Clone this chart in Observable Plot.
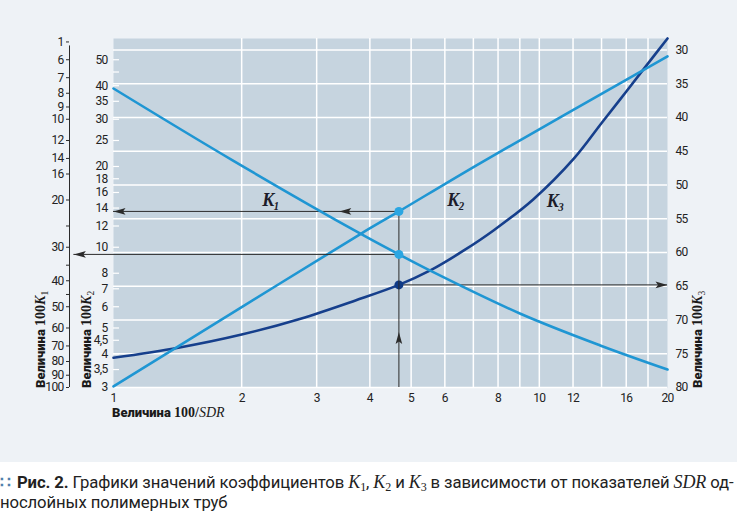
<!DOCTYPE html>
<html>
<head>
<meta charset="utf-8">
<script src="https://cdn.jsdelivr.net/npm/d3@7"></script>
<script src="https://cdn.jsdelivr.net/npm/@observablehq/plot@0.6"></script>
<style>
  body { margin: 0; background: #fff; }
  #wrap { position: relative; width: 746px; height: 531px; overflow: hidden; background: #fff; }
  #panel { position: absolute; left: 0; top: 0; width: 737px; height: 462px; background: #eef2f6; }
  .layer { position: absolute; left: 0; top: 0; }
  .layer text { letter-spacing: -0.7px; }
  #caption { position: absolute; left: 0; top: 472px; width: 746px; white-space: nowrap;
    font-family: Roboto, "Noto Sans", sans-serif; font-size: 16.7px; line-height: 20px; color: #222; letter-spacing: -0.1px; }
  #caption .dots { color: #4f7fab; font-weight: bold; margin-right: 6px; }
  #caption i { font-family: "Liberation Serif", "DejaVu Serif", serif; font-size: 18px; }
  #caption sub { font-family: "Liberation Serif", serif; font-size: 12px; vertical-align: -3px; line-height: 0; }
</style>
</head>
<body>
<div id="wrap">
  <div id="panel"></div>
  <div id="layers"></div>
  <div id="caption"><span class="dots">∷</span><b>Рис. 2.</b> Графики значений коэффициентов <i>K</i><sub>1</sub>, <i>K</i><sub>2</sub> и <i>K</i><sub>3</sub> в зависимости от показателей <i>SDR</i> од-<br>нослойных полимерных труб</div>
</div>
<script>
// ---------- data ----------
const xTicks = [1, 2, 3, 4, 5, 6, 8, 10, 12, 16, 20];
const xGrid = [2, 3, 4, 5, 6, 7, 8, 9, 10, 12, 14, 16, 18];

const k1TickValues = [5.15, 6, 7, 8, 9, 10, 12, 14, 16, 20, 25, 30, 35, 40, 45, 50, 60, 70, 80, 90, 100];
const k1TickLabels = ["1", "6", "7", "8", "9", "10", "12", "14", "16", "20", "", "30", "", "40", "", "50", "60", "70", "80", "90", "100"];

const k2TickValues = [3, 3.5, 4, 4.5, 5, 6, 7, 8, 10, 12, 14, 16, 18, 20, 25, 30, 35, 40, 45, 50];
const k2TickLabels = ["3", "3,5", "4", "4,5", "5", "6", "7", "8", "10", "12", "14", "16", "18", "20", "25", "30", "35", "40", "", "50"];

const k3Ticks = [30, 35, 40, 45, 50, 55, 60, 65, 70, 75, 80];

// K1 curve (100K1 vs 100/SDR)
const k1X = [1, 1.9, 3.8, 4.68, 5.53, 9.03, 13.9, 20];
const k1Y = [7.68, 14.2, 26.7, 31.9, 36.6, 53.1, 69.7, 85.7];
// K2 curve
const k2X = [1, 2, 3.8, 4.68, 7.27, 20];
const k2Y = [3.03, 5.98, 11.2, 13.6, 20.6, 51.5];
// K3 curve
const k3X = [1, 1.42, 2, 2.75, 3.7, 4.68, 5.53, 6.65, 7.82, 9.69, 12.05, 14.05, 15.94, 17.95, 20];
const k3Y = [75.6, 74.1, 72.15, 69.8, 67.1, 64.8, 62.7, 59.7, 56.7, 52.1, 46.1, 40.7, 36.3, 32.1, 28.3];

// worked example (SDR ≈ 21)
const exampleX = 4.68;
const exampleK1 = 31.9;
const exampleK2 = 13.6;
const exampleK3 = 64.8;
const k1ArrowEndX = 0.807;   // arrow reaching the 100K1 scale
const k2MidArrowX = 3.39;    // middle arrowhead on the K2 reading line
const upArrowK2 = 4.83;      // arrowhead on the vertical line

const curveLabels = [
  {name: "K₁", x: 2.34, y: 15.0},
  {name: "K₂", x: 6.36, y: 15.0},
  {name: "K₃", x: 10.9, y: 14.9}
];

// ---------- setup ----------
const k1Data = k1X.map((x, i) => ({x, y: k1Y[i]}));
const k2Data = k2X.map((x, i) => ({x, y: k2Y[i]}));
const k3Data = k3X.map((x, i) => ({x, y: k3Y[i]}));
const k1Map = new Map(k1TickValues.map((v, i) => [v, k1TickLabels[i]]));
const k2Map = new Map(k2TickValues.map((v, i) => [v, k2TickLabels[i]]));

const W = 746, H = 462;
const margins = {marginLeft: 113, marginRight: 79, marginTop: 38, marginBottom: 75};
const tickFont = "Roboto, 'Noto Sans', sans-serif";
const style = {background: "transparent", fontFamily: tickFont, fontSize: "12px", color: "#222", overflow: "visible"};
const xScale = {type: "log", domain: [1, 20], axis: null};
const LIGHT = "#1f96d3", LIGHT_DOT = "#2aa6e2", NAVY = "#163f8c", NAVY_DOT = "#0f3a86", INK = "#2b2b2b";

const arrowHead = {
  draw(ctx) {
    ctx.moveTo(0, 0);
    ctx.lineTo(-3.3, 12);
    ctx.lineTo(0, 9.5);
    ctx.lineTo(3.3, 12);
    ctx.closePath();
  }
};

// Layer A: background, grid, K3
const layerA = Plot.plot({
  width: W, height: H, ...margins, style,
  x: xScale,
  y: {type: "linear", domain: [80, 28.3], axis: null},
  marks: [
    Plot.frame({fill: "#c6d4df", stroke: null}),
    Plot.ruleX(xGrid, {stroke: "#fff", strokeWidth: 1.5}),
    Plot.ruleY(k3Ticks, {stroke: "#fff", strokeWidth: 1.5}),
    Plot.axisY({anchor: "right", ticks: k3Ticks, tickSize: 0, tickPadding: 8, label: null, fill: "#222"}),
    Plot.ruleY([exampleK3], {y: d => d, x1: exampleX, x2: 20, stroke: INK, strokeWidth: 1}),
    Plot.line(k3Data, {x: "x", y: "y", stroke: NAVY, strokeWidth: 2.6, curve: "catmull-rom"}),
    Plot.dot([exampleK3], {x: () => 20, y: d => d, symbol: arrowHead, rotate: 90, fill: INK, stroke: null}),
    Plot.dot([exampleK3], {x: () => exampleX, y: d => d, r: 4.5, fill: NAVY_DOT, stroke: null})
  ]
});

// Layer B: K2 scale, x axis
const layerB = Plot.plot({
  width: W, height: H, ...margins, style,
  x: xScale,
  y: {type: "log", domain: [3, 60], axis: null},
  marks: [
    Plot.axisY({anchor: "left", ticks: k2TickValues, tickFormat: () => "", tickSize: 6, dx: 6, label: null, stroke: "#fff", strokeWidth: 1.2}),
    Plot.text(k2TickValues, {x: () => 1, y: d => d, text: d => k2Map.get(d), textAnchor: "end", dx: -6, fill: "#222"}),
    Plot.axisX({anchor: "bottom", ticks: xTicks, tickFormat: d => String(d), tickSize: 0, tickPadding: 6, label: null, fill: "#222"}),
    Plot.ruleX([exampleX], {x: d => d, y1: 3, y2: exampleK2, stroke: INK, strokeWidth: 1}),
    Plot.ruleY([exampleK2], {y: d => d, x1: 1, x2: exampleX, stroke: INK, strokeWidth: 1}),
    Plot.line(k2Data, {x: "x", y: "y", stroke: LIGHT, strokeWidth: 2.6, curve: "catmull-rom"}),
    Plot.dot([1, k2MidArrowX], {x: d => d, y: () => exampleK2, symbol: arrowHead, rotate: -90, fill: INK, stroke: null}),
    Plot.dot([upArrowK2], {x: () => exampleX, y: d => d, symbol: arrowHead, rotate: 0, fill: INK, stroke: null}),
    Plot.dot([exampleK2], {x: () => exampleX, y: d => d, r: 4.5, fill: LIGHT_DOT, stroke: null}),
    Plot.text(curveLabels, {x: "x", y: "y", text: "name", fontFamily: "'Liberation Serif', 'DejaVu Serif', serif",
      fontStyle: "italic", fontWeight: "bold", fontSize: 18, fill: "#1c1c2a"})
  ]
});

// Layer C: K1 scale
const layerC = Plot.plot({
  width: W, height: H, ...margins, style,
  x: xScale,
  y: {type: "log", domain: [100, 5], axis: null},
  marks: [
    Plot.ruleX([1], {x: d => d, y1: 5.33, y2: 100, dx: -44, stroke: INK, strokeWidth: 1}),
    Plot.axisY({anchor: "left", ticks: k1TickValues, tickFormat: () => "", tickSize: 3, dx: -44, label: null, stroke: INK}),
    Plot.text(k1TickValues, {x: () => 1, y: d => d, text: d => k1Map.get(d), textAnchor: "end", dx: -50, fill: "#222"}),
    Plot.ruleY([exampleK1], {y: d => d, x1: k1ArrowEndX, x2: exampleX, stroke: INK, strokeWidth: 1}),
    Plot.line(k1Data, {x: "x", y: "y", stroke: LIGHT, strokeWidth: 2.6, curve: "catmull-rom"}),
    Plot.dot([exampleK1], {x: () => k1ArrowEndX, y: d => d, symbol: arrowHead, rotate: -90, fill: INK, stroke: null}),
    Plot.dot([exampleK1], {x: () => exampleX, y: d => d, r: 4.5, fill: LIGHT_DOT, stroke: null})
  ]
});

const layers = document.getElementById("layers");
for (const p of [layerA, layerB, layerC]) {
  p.classList.add("layer");
  layers.appendChild(p);
}

// Axis titles (mixed styles)
const svg = d3.select(layerC);
function title(x, y, rot, sub, tail) {
  const t = svg.append("text")
    .attr("transform", `translate(${x},${y}) rotate(${rot})`)
    .attr("text-anchor", "start")
    .style("letter-spacing", "0px")
    .attr("font-size", 13).attr("fill", "#1a1a1a");
  t.append("tspan").attr("font-family", "Roboto, 'Noto Sans', sans-serif").attr("font-weight", 900).text("Величина ");
  if (tail) {
    t.append("tspan").attr("font-family", "'Liberation Serif', serif").attr("font-weight", 700).attr("font-size", 14).text("100/");
    t.append("tspan").attr("font-family", "'Liberation Serif', serif").attr("font-style", "italic").attr("font-size", 14).text("SDR");
  } else {
    t.append("tspan").attr("font-family", "'Liberation Serif', serif").attr("font-weight", 700).attr("font-size", 14).text("100");
    t.append("tspan").attr("font-family", "'Liberation Serif', serif").attr("font-style", "italic").attr("font-weight", 700).attr("font-size", 14).text("K");
    t.append("tspan").attr("font-family", "'Liberation Serif', serif").attr("font-size", 9.5).attr("dy", 3).text(sub);
  }
}
title(44.5, 388, -90, "1");
title(91, 388, -90, "2");
title(702, 388, -90, "3");
title(112, 417, 0, null, true);
</script>
</body>
</html>
